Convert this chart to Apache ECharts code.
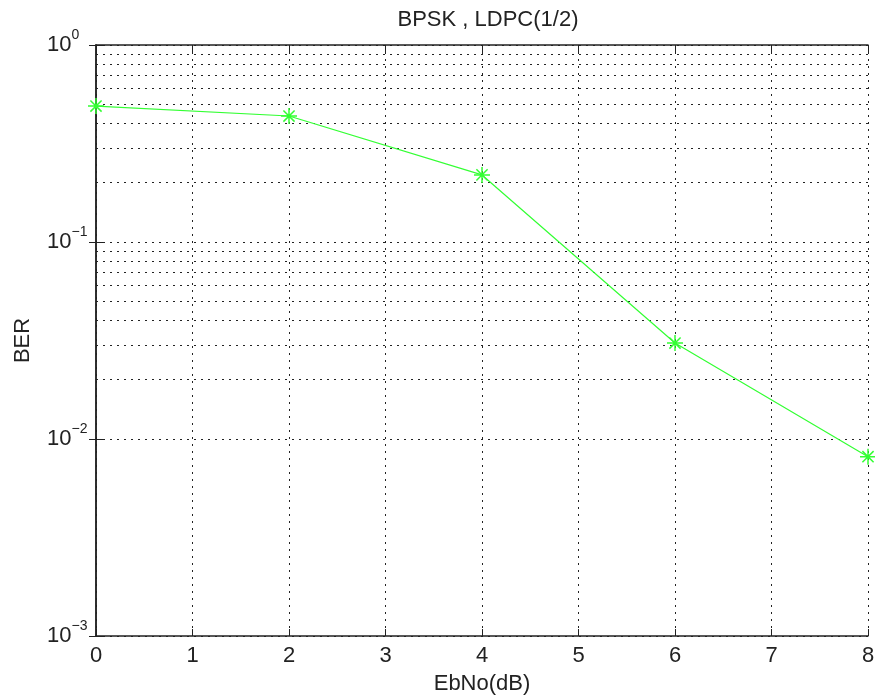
<!DOCTYPE html>
<html lang="en">
<head>
    <meta charset="UTF-8">
    <title>BPSK , LDPC(1/2)</title>
    <style>
        html, body { margin: 0; padding: 0; background: #fff; }
        #main { width: 875px; height: 699px; }
    </style>
</head>
<body>
    <div id="main"></div>
<script type="text/javascript" src="https://cdn.jsdelivr.net/npm/echarts@6/dist/echarts.min.js"></script>
<script type="text/javascript">
    // data
    var ebno = [0, 2, 4, 6, 8];
    var ber = [0.49, 0.436, 0.219, 0.0307, 0.00813];

    // log grid: decades and the 2..9 minor lines between them
    var decades = [0.001, 0.01, 0.1];
    var minorSteps = [2, 3, 4, 5, 6, 7, 8, 9];

    var fontName = 'Liberation Sans, Arial, sans-serif';
    var dotted = { color: '#222', width: 1, type: [2, 5] };

    var minorLines = [];
    for (var i = 0; i < decades.length; i++) {
        for (var j = 0; j < minorSteps.length; j++) {
            minorLines.push({ yAxis: decades[i] * minorSteps[j] });
        }
    }

    var points = [];
    for (var i = 0; i < ebno.length; i++) {
        points.push([ebno[i], ber[i]]);
    }

    function powLabel(value) {
        var e = Math.round(Math.log(value) / Math.LN10);
        var s = e < 0 ? '\u2212' + (-e) : '' + e;
        return '{b|10}{s|' + s + '}';
    }

    var myChart = echarts.init(document.getElementById('main'));
    var option = {
        backgroundColor: '#fff',
        animation: false,
        title: {
            text: 'BPSK , LDPC(1/2)',
            left: 483,
            textAlign: 'center',
            top: 4,
            textStyle: { fontFamily: fontName, fontSize: 22, fontWeight: 'normal', color: '#222' }
        },
        grid: { left: 96, right: 7, top: 45, bottom: 63, outerBoundsMode: 'none', containLabel: false },
        xAxis: [{
            type: 'value',
            min: 0, max: 8, interval: 1,
            name: 'EbNo(dB)',
            nameLocation: 'middle',
            nameGap: 37,
            nameTextStyle: { fontFamily: fontName, fontSize: 22, color: '#222' },
            axisLine: { lineStyle: { color: '#222', width: 1.5 } },
            axisTick: { inside: true, length: 7, lineStyle: { color: '#222' } },
            axisLabel: { margin: 9, fontFamily: fontName, fontSize: 22, color: '#222' },
            splitLine: { show: true, lineStyle: dotted }
        }, {
            type: 'value',
            position: 'top',
            min: 0, max: 8, interval: 1,
            axisLine: { show: true, lineStyle: { color: '#222', width: 1.5 } },
            axisTick: { inside: true, length: 7, lineStyle: { color: '#222' } },
            axisLabel: { show: false },
            splitLine: { show: false }
        }],
        yAxis: [{
            type: 'log',
            logBase: 10,
            min: 0.001, max: 1,
            name: 'BER',
            nameLocation: 'middle',
            nameGap: 62,
            nameTextStyle: { fontFamily: fontName, fontSize: 22, color: '#222' },
            axisLine: { show: true, lineStyle: { color: '#222', width: 1.5 } },
            axisTick: { inside: true, length: 7, lineStyle: { color: '#222' } },
            axisLabel: {
                margin: 49,
                align: 'left',
                formatter: powLabel,
                rich: {
                    b: { fontFamily: fontName, fontSize: 22, color: '#222' },
                    s: { fontFamily: fontName, fontSize: 14, color: '#222', padding: [0, 0, 20, 0] }
                }
            },
            splitLine: { show: true, lineStyle: dotted }
        }, {
            type: 'log',
            logBase: 10,
            min: 0.001, max: 1,
            position: 'right',
            axisLine: { show: true, lineStyle: { color: '#222', width: 1.5 } },
            axisTick: { inside: true, length: 7, lineStyle: { color: '#222' } },
            axisLabel: { show: false },
            splitLine: { show: false }
        }],
        series: [{
            name: 'grid',
            type: 'line',
            data: [],
            silent: true,
            markLine: {
                silent: true,
                symbol: 'none',
                label: { show: false },
                lineStyle: dotted,
                data: minorLines
            }
        }, {
            name: 'BER',
            type: 'line',
            data: points,
            z: 5,
            lineStyle: { color: '#33ff33', width: 1.2 },
            symbol: 'path://M0,-10L0,10M-10,0L10,0M-7,-7L7,7M-7,7L7,-7',
            symbolSize: 16,
            symbolKeepAspect: true,
            itemStyle: { color: '#33ff33', borderColor: '#33ff33', borderWidth: 1.5 }
        }]
    };
    myChart.setOption(option);
</script>
</body>
</html>
